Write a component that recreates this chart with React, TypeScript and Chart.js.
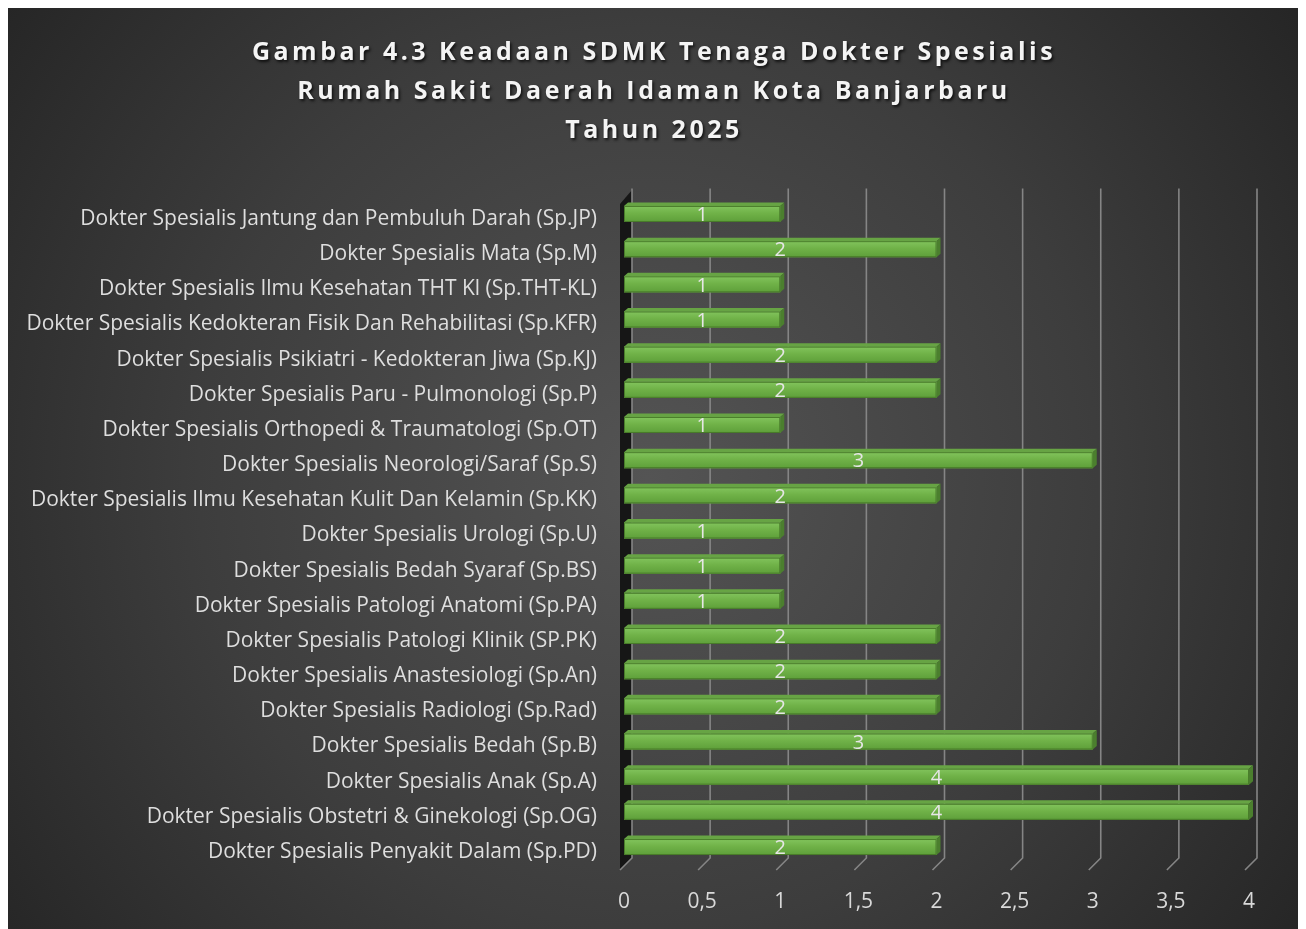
import React, { useEffect, useRef } from 'react';
import { Chart, registerables } from 'chart.js';

Chart.register(...registerables);

const titleLines = [
  'Gambar 4.3 Keadaan SDMK Tenaga Dokter Spesialis',
  'Rumah Sakit Daerah Idaman Kota Banjarbaru',
  'Tahun 2025',
];

const categories = [
  'Dokter Spesialis Jantung dan Pembuluh Darah (Sp.JP)',
  'Dokter Spesialis Mata (Sp.M)',
  'Dokter Spesialis Ilmu Kesehatan THT Kl (Sp.THT-KL)',
  'Dokter Spesialis Kedokteran Fisik Dan Rehabilitasi (Sp.KFR)',
  'Dokter Spesialis Psikiatri - Kedokteran Jiwa (Sp.KJ)',
  'Dokter Spesialis Paru - Pulmonologi (Sp.P)',
  'Dokter Spesialis Orthopedi & Traumatologi (Sp.OT)',
  'Dokter Spesialis Neorologi/Saraf (Sp.S)',
  'Dokter Spesialis Ilmu Kesehatan Kulit Dan Kelamin (Sp.KK)',
  'Dokter Spesialis Urologi (Sp.U)',
  'Dokter Spesialis Bedah Syaraf (Sp.BS)',
  'Dokter Spesialis Patologi Anatomi (Sp.PA)',
  'Dokter Spesialis Patologi Klinik (SP.PK)',
  'Dokter Spesialis Anastesiologi (Sp.An)',
  'Dokter Spesialis Radiologi (Sp.Rad)',
  'Dokter Spesialis Bedah (Sp.B)',
  'Dokter Spesialis Anak (Sp.A)',
  'Dokter Spesialis Obstetri & Ginekologi (Sp.OG)',
  'Dokter Spesialis Penyakit Dalam (Sp.PD)',
];

const jumlahDokter = [1, 2, 1, 1, 2, 2, 1, 3, 2, 1, 1, 1, 2, 2, 2, 3, 4, 4, 2];

const xTickValues = [0, 0.5, 1, 1.5, 2, 2.5, 3, 3.5, 4];
const xTickLabels = ['0', '0,5', '1', '1,5', '2', '2,5', '3', '3,5', '4'];

const FONT = '"Open Sans", "DejaVu Sans", sans-serif';

const backgroundPlugin = {
  id: 'bg3d',
  beforeDraw(chart: any) {
    const { ctx, width, height } = chart;
    ctx.save();
    const g = ctx.createRadialGradient(640, 470, 0, 640, 470, 900);
    g.addColorStop(0, '#545454');
    g.addColorStop(0.5, '#3d3d3d');
    g.addColorStop(1, '#1f1f1f');
    ctx.fillStyle = g;
    ctx.fillRect(0, 0, width, height);
    ctx.restore();
    // title styling (letter spacing + shadow) used by the title layer
    ctx.letterSpacing = '3.5px';
    ctx.shadowColor = 'rgba(0,0,0,0.75)';
    ctx.shadowBlur = 3;
    ctx.shadowOffsetX = 1.5;
    ctx.shadowOffsetY = 2;
  },
  beforeDatasetsDraw(chart: any) {
    const { ctx, chartArea } = chart;
    ctx.letterSpacing = '0px';
    ctx.shadowColor = 'rgba(0,0,0,0)';
    ctx.shadowBlur = 0;
    ctx.shadowOffsetX = 0;
    ctx.shadowOffsetY = 0;
    const xs = chart.scales.x;
    const top = chartArea.top;
    const bottom = chartArea.bottom;
    const x0 = xs.getPixelForValue(0);
    ctx.save();
    // left wall
    ctx.fillStyle = '#161616';
    ctx.beginPath();
    ctx.moveTo(x0 - 4, top + 7.6);
    ctx.lineTo(x0 + 8, top - 6.4);
    ctx.lineTo(x0 + 8, bottom - 6.6);
    ctx.lineTo(x0 - 4, bottom + 5.4);
    ctx.closePath();
    ctx.fill();
    // gridlines in 3D
    ctx.strokeStyle = '#858585';
    ctx.lineWidth = 1.6;
    xTickValues.forEach((v) => {
      const xb = xs.getPixelForValue(v) + 8;
      ctx.beginPath();
      ctx.moveTo(xb, top - 8);
      ctx.lineTo(xb, bottom - 6.6);
      ctx.lineTo(xb - 12, bottom + 5.4);
      ctx.stroke();
    });
    ctx.restore();
  },
  afterDatasetsDraw(chart: any) {
    const { ctx } = chart;
    const meta = chart.getDatasetMeta(0);
    const data = chart.data.datasets[0].data;
    const dx = 4;
    const dy = 3.5;
    ctx.save();
    meta.data.forEach((bar: any, i: number) => {
      const p = bar.getProps(['x', 'y', 'base', 'height'], true);
      const left = Math.min(p.base, p.x);
      const right = Math.max(p.base, p.x);
      const t = p.y - p.height / 2;
      const b = p.y + p.height / 2;
      // top face
      ctx.fillStyle = '#67a444';
      ctx.beginPath();
      ctx.moveTo(left, t);
      ctx.lineTo(left + dx, t - dy);
      ctx.lineTo(right + dx, t - dy);
      ctx.lineTo(right, t);
      ctx.closePath();
      ctx.fill();
      // side face
      ctx.fillStyle = '#4b7f2e';
      ctx.beginPath();
      ctx.moveTo(right, t);
      ctx.lineTo(right + dx, t - dy);
      ctx.lineTo(right + dx, b - dy);
      ctx.lineTo(right, b);
      ctx.closePath();
      ctx.fill();
      // front face gradient
      const g = ctx.createLinearGradient(0, t, 0, b);
      g.addColorStop(0, '#82c45d');
      g.addColorStop(0.45, '#70b248');
      g.addColorStop(1, '#5e9f3a');
      ctx.fillStyle = g;
      ctx.fillRect(left, t, right - left, b - t);
      ctx.strokeStyle = 'rgba(70,120,40,0.9)';
      ctx.lineWidth = 1;
      ctx.strokeRect(left + 0.5, t + 0.5, right - left - 1, b - t - 1);
      // data label
      ctx.fillStyle = '#e6e6e6';
      ctx.font = `20px ${FONT}`;
      ctx.textAlign = 'center';
      ctx.textBaseline = 'middle';
      ctx.fillText(String(data[i]), (left + right) / 2, p.y + 1.5);
    });
    ctx.restore();
  },
};

export default function App() {
  const ref = useRef<HTMLCanvasElement | null>(null);
  useEffect(() => {
    if (!ref.current) return;
    const chart = new Chart(ref.current, {
      type: 'bar',
      data: {
        labels: categories,
        datasets: [
          {
            label: 'Jumlah',
            data: jumlahDokter,
            backgroundColor: '#70b248',
            borderWidth: 0,
            barPercentage: 0.455,
            categoryPercentage: 1,
          },
        ],
      },
      options: {
        indexAxis: 'y',
        animation: false,
        responsive: true,
        maintainAspectRatio: false,
        layout: { padding: { left: 0, right: 0, top: 0, bottom: 0 } },
        plugins: {
          legend: { display: false },
          tooltip: { enabled: false },
          title: {
            display: true,
            text: titleLines,
            color: '#f4f4f4',
            font: { family: FONT, size: 25, weight: 'bold', lineHeight: 39 / 25 },
            padding: { top: 25, bottom: 46.4 },
          },
        },
        scales: {
          x: {
            type: 'linear',
            min: 0,
            max: 4,
            afterFit: (s: any) => {
              s.height = 64.4;
            },
            afterBuildTicks: (s: any) => {
              s.ticks = xTickValues.map((v) => ({ value: v }));
            },
            grid: { display: false, drawTicks: false },
            border: { display: false },
            ticks: {
              z: 1,
              color: '#d9d9d9',
              font: { family: FONT, size: 21 },
              padding: 25,
              maxRotation: 0,
              callback: (_v: any, i: number) => xTickLabels[i],
            },
          },
          y: {
            type: 'category',
            afterFit: (s: any) => {
              s.width = 616;
            },
            grid: { display: false, drawTicks: false },
            border: { display: false },
            ticks: {
              z: 1,
              color: '#dedede',
              font: { family: FONT, size: 21 },
              padding: 27,
              labelOffset: 5,
              autoSkip: false,
            },
          },
          yRightSpace: {
            type: 'category',
            position: 'right',
            afterFit: (s: any) => {
              s.width = 51;
            },
            grid: { display: false, drawTicks: false },
            border: { display: false },
            ticks: { display: false },
          },
        },
      },
      plugins: [backgroundPlugin],
    });
    return () => chart.destroy();
  }, []);

  return (
    <div style={{ width: 1292, height: 921, position: 'relative' }}>
      <canvas ref={ref} />
    </div>
  );
}
